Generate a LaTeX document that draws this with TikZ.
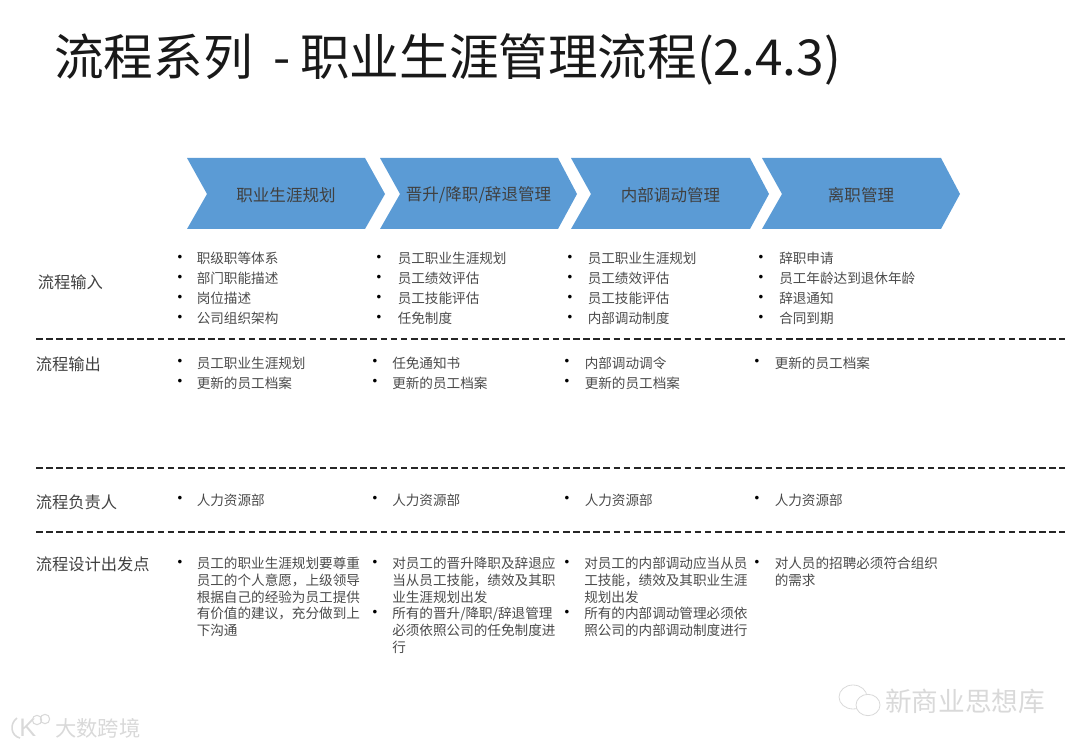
\documentclass[tikz,border=0pt]{standalone}
\usetikzlibrary{shapes.geometric}
\usepackage{fontspec}
\newfontfamily\cjk{Noto Sans CJK SC}
\newfontfamily\bul{Liberation Sans}
\definecolor{chev}{HTML}{5B9BD5}
\definecolor{bodyc}{HTML}{4A4A4A}
\definecolor{wm}{HTML}{D9D9D9}
\tikzset{
  px/.style={x=0.75pt,y=-0.75pt},
  chevshape/.style={fill=chev,draw=none},
  chevtext/.style={font=\cjk\fontsize{12.4}{15}\selectfont,text=black!75,inner sep=0pt},
  titletext/.style={font=\cjk\fontsize{37.2}{44}\selectfont,text=black!90,inner sep=0pt,anchor=base west},
  rowlabel/.style={font=\cjk\fontsize{12.2}{15}\selectfont,text=black!75,inner sep=0pt,anchor=west},
  sep/.style={draw=black!85,line width=1.1pt,dash pattern=on 5pt off 2.6pt},
  bullet/.style={font=\bul\fontsize{10}{12}\selectfont,text=black,inner sep=0pt},
  tight/.style={font=\cjk\fontsize{10.2}{15}\selectfont,text=bodyc,inner sep=0pt,anchor=north west,align=left},
  dense/.style={font=\cjk\fontsize{10.2}{12.5}\selectfont,text=bodyc,inner sep=0pt,anchor=north west,align=left},
  wmark/.style={text=wm,inner sep=0pt,anchor=west},
}
\begin{document}
\begin{tikzpicture}[px]
\useasboundingbox (0,0) rectangle (1080,748);
% title
\node[titletext] (title1) at (54,76) {流程系列};
\node[titletext] (title2) at (273,76) {-};
\node[titletext] (title3) at (300,76) {职业生涯管理流程(2.4.3)};
% chevrons
\fill[chevshape] (187,158)--(365,158)--(385,194)--(365,229)--(187,229)--(207,194)--cycle;
\fill[chevshape] (380,158)--(558,158)--(577,194)--(558,229)--(380,229)--(400,194)--cycle;
\fill[chevshape] (571,158)--(750,158)--(769,194)--(750,229)--(571,229)--(591,194)--cycle;
\fill[chevshape] (762,158)--(941,158)--(960,194)--(941,229)--(762,229)--(782,194)--cycle;
\node[chevtext] (h1) at (286,195) {职业生涯规划};
\node[chevtext] (h2) at (478.5,195) {晋升/降职/辞退管理};
\node[chevtext] (h3) at (670.5,195) {内部调动管理};
\node[chevtext] (h4) at (861,195) {离职管理};
% row labels
\node[rowlabel] (l1) at (37.5,282) {流程输入};
\node[rowlabel] (l2) at (35.5,364) {流程输出};
\node[rowlabel] (l3) at (35.5,502) {流程负责人};
\node[rowlabel] (l4) at (35.5,564) {流程设计出发点};
% separators
\coordinate (s1a) at (36,339); \coordinate (s1b) at (1065,339);
\coordinate (s2a) at (36,468); \coordinate (s2b) at (1065,468);
\coordinate (s3a) at (36,532); \coordinate (s3b) at (1065,532);
\draw[sep] (s1a)--(s1b);
\draw[sep] (s2a)--(s2b);
\draw[sep] (s3a)--(s3b);
% row 1
\foreach \x/\n in {180/a,379/b,570/c,761/d}{
  \foreach \y/\m in {258/1,278/2,298/3,318/4}{
    \node[bullet] (b\n\m) at (\x,\y) {•};
  }
}
\node[tight] (t11) at (196.5,252) {职级职等体系\\部门职能描述\\岗位描述\\公司组织架构};
\node[tight] (t12) at (397.5,252) {员工职业生涯规划\\员工绩效评估\\员工技能评估\\任免制度};
\node[tight] (t13) at (587.5,252) {员工职业生涯规划\\员工绩效评估\\员工技能评估\\内部调动制度};
\node[tight] (t14) at (779,252) {辞职申请\\员工年龄达到退休年龄\\辞退通知\\合同到期};
% row 2
\foreach \x/\y/\n in {180/362/a,180/382/b,375/362/c,375/382/d,567/362/e,567/382/f,757/362/g}{
  \node[bullet] (o\n) at (\x,\y) {•};
}
\node[tight] (t21) at (196.5,357) {员工职业生涯规划\\更新的员工档案};
\node[tight] (t22) at (392,357) {任免通知书\\更新的员工档案};
\node[tight] (t23) at (584.5,357) {内部调动调令\\更新的员工档案};
\node[tight] (t24) at (774.5,357) {更新的员工档案};
% row 3
\foreach \x/\n in {180/a,375/b,567/c,757/d}{
  \node[bullet] (r\n) at (\x,499) {•};
}
\node[tight] (t31) at (196.5,494) {人力资源部};
\node[tight] (t32) at (392,494) {人力资源部};
\node[tight] (t33) at (584.5,494) {人力资源部};
\node[tight] (t34) at (774.5,494) {人力资源部};
% row 4
\foreach \x/\y/\n in {180/563/a,375/563/b,375/613/c,567/563/d,567/613/e,757/563/f}{
  \node[bullet] (d\n) at (\x,\y) {•};
}
\node[dense] (t41) at (196.5,557) {员工的职业生涯规划要尊重\\员工的个人意愿，上级领导\\根据自己的经验为员工提供\\有价值的建议，充分做到上\\下沟通};
\node[dense] (t42) at (392,557) {对员工的晋升降职及辞退应\\当从员工技能，绩效及其职\\业生涯规划出发\\所有的晋升/降职/辞退管理\\必须依照公司的任免制度进\\行};
\node[dense] (t43) at (584,557) {对员工的内部调动应当从员\\工技能，绩效及其职业生涯\\规划出发\\所有的内部调动管理必须依\\照公司的内部调动制度进行};
\node[dense] (t44) at (774.5,557) {对人员的招聘必须符合组织\\的需求};
% watermarks
\draw[wm,line width=1.2pt] (17,718) .. controls (9,724) and (11,736) .. (20,738);
\node[wmark,font=\bul\fontsize{19}{20}\selectfont] (wk) at (19,728) {K};
\node[draw=wm,circle,line width=0.8pt,minimum size=7pt,inner sep=0pt] (wo1) at (37,720) {};
\node[draw=wm,circle,line width=0.8pt,minimum size=7pt,inner sep=0pt] (wo2) at (45,719) {};
\node[wmark,font=\cjk\fontsize{16}{18}\selectfont] (wa) at (55,728) {大数跨境};
\node[draw=wm,ellipse,line width=0.6pt,minimum width=21pt,minimum height=18pt,inner sep=0pt] (we1) at (853,697) {};
\node[draw=wm,fill=white,ellipse,line width=0.6pt,minimum width=18pt,minimum height=16pt,inner sep=0pt] (we2) at (868,705) {};
\node[wmark,font=\cjk\fontsize{20}{22}\selectfont] (wb) at (885,701) {新商业思想库};
\end{tikzpicture}
\end{document}
